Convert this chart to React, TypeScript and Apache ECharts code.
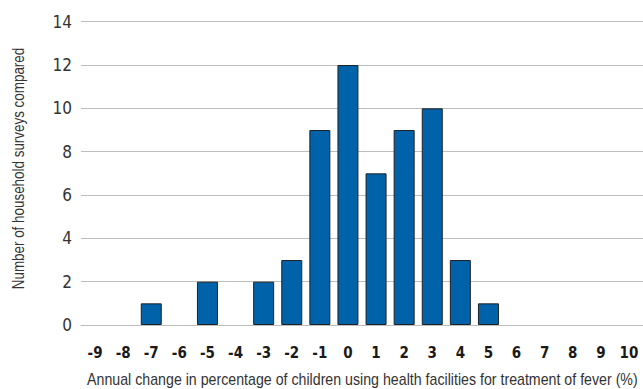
import React, { useEffect, useRef } from "react";
import * as echarts from "echarts";

const categories = ["-9", "-8", "-7", "-6", "-5", "-4", "-3", "-2", "-1", "0", "1", "2", "3", "4", "5", "6", "7", "8", "9", "10"];
const surveyCounts = [0, 0, 1, 0, 2, 0, 2, 3, 9, 12, 7, 9, 10, 3, 1, 0, 0, 0, 0, 0];
const yTicks = { min: 0, max: 14, interval: 2 };
const yTitle = "Number of household surveys compared";
const xTitle = "Annual change in percentage of children using health facilities for treatment of fever (%)";

const NUM_FONT = "'DejaVu Sans Condensed', sans-serif";
const TITLE_FONT = "'Liberation Sans', Arial, sans-serif";

export default function App() {
  const ref = useRef<HTMLDivElement>(null);
  useEffect(() => {
    document.body.style.margin = "0";
    const chart = echarts.init(ref.current!, null, { renderer: "svg" });
    const barData = surveyCounts.map((v) =>
      v === 0 ? { value: v, itemStyle: { borderWidth: 0, opacity: 0 } } : v
    );
    chart.setOption({
      animation: false,
      backgroundColor: "#ffffff",
      grid: { left: 81, top: 21.7, width: 571.6, height: 303.3, containLabel: false },
      xAxis: {
        type: "category",
        data: categories,
        axisLine: { show: true, lineStyle: { color: "#bdbdbd", width: 1 } },
        axisTick: { show: false },
        axisLabel: {
          interval: 0,
          margin: 20,
          color: "#1a1a1a",
          fontWeight: "bold",
          fontSize: 15,
          fontFamily: NUM_FONT,
        },
      },
      yAxis: {
        type: "value",
        min: yTicks.min,
        max: yTicks.max,
        interval: yTicks.interval,
        axisLine: { show: false },
        axisTick: { show: false },
        splitLine: { lineStyle: { color: "#bdbdbd", width: 1 } },
        axisLabel: { margin: 9, color: "#333333", fontSize: 17, fontFamily: NUM_FONT },
      },
      series: [
        {
          type: "bar",
          data: barData,
          barWidth: 21,
          itemStyle: { color: "#0062a8", borderColor: "#1e2226", borderWidth: 1 },
        },
      ],
      graphic: [
        {
          type: "text",
          x: 17.5,
          y: 168.5,
          rotation: Math.PI / 2,
          scaleX: 0.79,
          style: {
            text: yTitle,
            fill: "#333333",
            fontSize: 17,
            fontFamily: TITLE_FONT,
            align: "center",
            verticalAlign: "middle",
          },
        },
        {
          type: "text",
          x: 362.4,
          y: 379,
          scaleX: 0.835,
          style: {
            text: xTitle,
            fill: "#333333",
            fontSize: 17,
            fontFamily: TITLE_FONT,
            align: "center",
            verticalAlign: "middle",
          },
        },
      ],
    });
    return () => chart.dispose();
  }, []);
  return <div ref={ref} style={{ width: 643, height: 389 }} />;
}
